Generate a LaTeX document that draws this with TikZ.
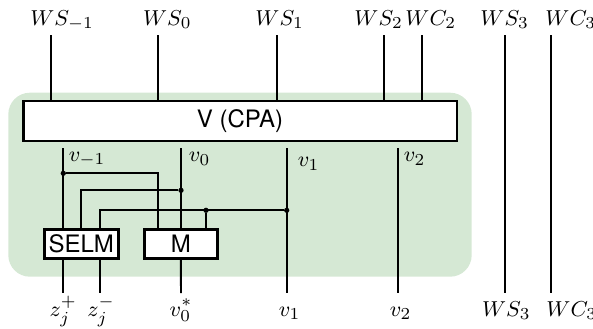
\documentclass[tikz,border=0pt]{standalone}
\usepackage{fontspec}
\setsansfont{TeX Gyre Heros}
\definecolor{zone}{RGB}{213,232,212}
\begin{document}
\begin{tikzpicture}[x=0.4167pt,y=-0.4167pt,
  wire/.style={line width=0.8pt},
  blk/.style={draw,line width=1pt,fill=white,inner sep=0pt,font=\sffamily},
  lbl/.style={inner sep=0pt,anchor=base west,font=\fontsize{9.5}{11}\selectfont},
  jn/.style={circle,fill,inner sep=0pt,minimum size=2.2pt}]
  \useasboundingbox (0,0) rectangle (593,328);
  % shaded area
  \fill[zone,rounded corners=9pt] (8.3,92.7) rectangle (471.7,276.7);
  % blocks
  \node[blk,minimum width=433.4*0.4167pt,minimum height=40*0.4167pt] (V) at (240,121) {V (CPA)};
  \node[blk,minimum width=74*0.4167pt,minimum height=29*0.4167pt] (selm) at (81.3,243.8) {SELM};
  \node[blk,minimum width=73*0.4167pt,minimum height=29*0.4167pt] (M) at (180.8,243.8) {M};
  % top labels
  \node[lbl] (lwsm1) at (30,25) {$WS_{-1}$};
  \node[lbl] (lws0) at (142.7,25) {$WS_0$};
  \node[lbl] (lws1) at (255,25) {$WS_1$};
  \node[lbl] (lws2) at (354,25) {$WS_2$};
  \node[lbl] (lwc2) at (405,25) {$WC_2$};
  \node[lbl] (lws3) at (480,25) {$WS_3$};
  \node[lbl] (lwc3) at (545,25) {$WC_3$};
  % inner labels
  \node[lbl] (lvm1) at (68.3,161) {$v_{-1}$};
  \node[lbl] (lv0) at (188.3,161.7) {$v_0$};
  \node[lbl] (lv1) at (297.3,166.7) {$v_1$};
  \node[lbl] (lv2) at (403.3,161.7) {$v_2$};
  % bottom labels
  \node[lbl,anchor=base] (lzp) at (63.3,316) {$z_j^+$};
  \node[lbl,anchor=base] (lzm) at (101,316) {$z_j^-$};
  \node[lbl,anchor=base] (lvs) at (181,316) {$v_0^*$};
  \node[lbl] (lbv1) at (278.3,316) {$v_1$};
  \node[lbl] (lbv2) at (389.3,316) {$v_2$};
  \node[lbl] (lbws3) at (481.7,316) {$WS_3$};
  \node[lbl] (lbwc3) at (546,316) {$WC_3$};
  % wire ends
  \coordinate (tm1) at (50.7,35);
  \coordinate (t0) at (157.7,35);
  \coordinate (t1) at (276.7,35);
  \coordinate (t2) at (384.3,35);
  \coordinate (c2) at (422.3,35);
  \coordinate (t3) at (505,35);
  \coordinate (c3) at (550.7,35);
  \coordinate (om1) at (63.3,148);
  \coordinate (o0) at (181,148);
  \coordinate (o1) at (286.7,148);
  \coordinate (o2) at (398.3,148);
  \coordinate (bzp) at (63.3,293);
  \coordinate (bzm) at (100,293);
  \coordinate (bvs) at (181,293);
  \coordinate (bv1) at (286.7,293);
  \coordinate (bv2) at (398.3,293);
  \coordinate (bws3) at (505,293);
  \coordinate (bwc3) at (550.7,293);
  % inputs of V
  \foreach \c in {tm1,t0,t1,t2,c2}
    \draw[wire] (\c) -- (\c |- V.north);
  \draw[wire] (t3) -- (bws3);
  \draw[wire] (c3) -- (bwc3);
  % outputs of V
  \draw[wire] (om1) -- (om1 |- selm.north);
  \draw[wire] (o0) -- (o0 |- M.north);
  \draw[wire] (o1) -- (bv1);
  \draw[wire] (o2) -- (bv2);
  % cross wiring
  \node[jn] (j1) at (63.3,173.3) {};
  \node[jn] (j2) at (181,190.3) {};
  \node[jn] (j3) at (286.7,210.3) {};
  \node[jn] (j4) at (206,210.3) {};
  \draw[wire] (j1) -- (158.3,173.3) -- (158.3,0 |- M.north);
  \draw[wire] (j2) -- (80.7,190.3) -- (80.7,0 |- selm.north);
  \draw[wire] (j3) -- (100,210.3) -- (100,0 |- selm.north);
  \draw[wire] (j4) -- (j4 |- M.north);
  % outputs of blocks
  \draw[wire] (bzp |- selm.south) -- (bzp);
  \draw[wire] (bzm |- selm.south) -- (bzm);
  \draw[wire] (M.south) -- (bvs);
\end{tikzpicture}
\end{document}
